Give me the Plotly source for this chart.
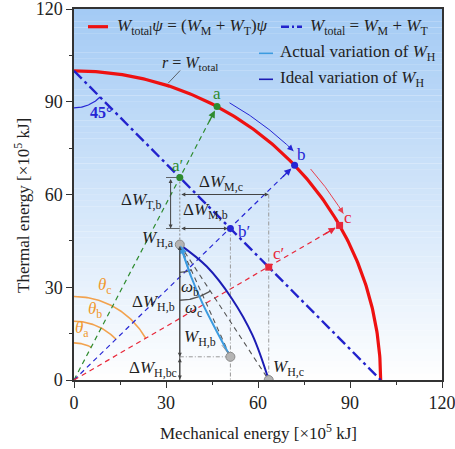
import numpy as np
import plotly.graph_objects as go

# ---------------- data (x1e5 kJ) ----------------
W_total = 100.0
state_labels = ["a", "b", "c"]
state_angles = [62.2, 44.0, 30.0]          # deg, measured from mechanical axis
state_colors = ["#2e8b2e", "#2626d4", "#e8283a"]
prime_WM = [34.5, 51.0, 63.5]              # W_M of a', b', c'
prime_WT = [65.5, 49.0, 36.5]              # W_T of a', b', c'
WH_labels = ["a", "b", "c"]
WH_x = [34.5, 51.0, 63.5]
WH_y = [43.8, 7.5, 0.0]
ideal_x = [34.5, 43.3, 51.5, 58.2, 63.5]
ideal_y = [43.8, 36.7, 26.3, 14.5, 0.0]
actual_x = [51.0, 46.3, 41.9, 38.2, 35.0]
actual_y = [7.5, 16.2, 24.8, 33.4, 42.6]
theta_radii = [12, 19, 27]
omega_radii = [9, 18]
x_ticks = [0, 30, 60, 90, 120]
y_ticks = [0, 30, 60, 90, 120]

FONT = "Liberation Serif"
GREY = "#444444"

fig = go.Figure()

# ---------------- background gradient ----------------
top = np.array([164, 203, 245])
white = np.array([255, 255, 255])
N = 60
shapes = []
for i in range(N):
    y0 = 120 * i / N
    y1 = 120 * (i + 1) / N
    t = (y0 + y1) / 2 / 120
    c = (white * (1 - t) + top * t).astype(int)
    shapes.append(dict(type="rect", xref="x domain", yref="y", x0=0, x1=1, y0=y0, y1=y1 + 0.05,
                       fillcolor=f"rgb({c[0]},{c[1]},{c[2]})", line=dict(width=0), layer="below"))


def line(x, y, color, width=1.0, dash="solid", shape="linear"):
    fig.add_trace(go.Scatter(x=x, y=y, mode="lines", hoverinfo="skip",
                             line=dict(color=color, width=width, dash=dash, shape=shape)))


def arc(cx, cy, r, a0, a1, n=60):
    t = np.radians(np.linspace(a0, a1, n))
    return cx + r * np.cos(t), cy + r * np.sin(t)


annots = []


def arrow(x, y, ax, ay, color=GREY, width=1.0, both=False, size=0.8, head=2, standoff=0):
    annots.append(dict(x=x, y=y, ax=ax, ay=ay, xref="x", yref="y", axref="x", ayref="y", text="",
                       showarrow=True, arrowhead=head, arrowsize=size, arrowwidth=width,
                       arrowcolor=color, arrowside="end+start" if both else "end",
                       startarrowhead=head, startarrowsize=size, standoff=standoff,
                       startstandoff=0))


def label(x, y, text, color="#222222", size=17, xanchor="center", yanchor="middle"):
    annots.append(dict(x=x, y=y, xref="x", yref="y", text=text, showarrow=False,
                       font=dict(family=FONT, size=size, color=color),
                       xanchor=xanchor, yanchor=yanchor))


# theta arcs (orange)
for ang, r in zip(state_angles, theta_radii):
    ax_, ay_ = arc(0, 0, r, 90, ang)
    line(ax_, ay_, "#f2a24e", 1.6)

# dashed rays from origin to states
pts = []
for ang, col in zip(state_angles, state_colors):
    px = W_total * np.cos(np.radians(ang))
    py = W_total * np.sin(np.radians(ang))
    pts.append((px, py))
    line([0, px], [0, py], col, 1.2, dash="5px,4px")

# grey construction lines
line([prime_WM[0], prime_WM[0]], [prime_WT[0], WH_y[0]], "#888888", 1, dash="2px,2px")
line([prime_WM[1], prime_WM[1]], [prime_WT[1], 0], "#999999", 1, dash="4px,2px,1px,2px")
line([prime_WM[2], prime_WM[2]], [60.0, 0], "#999999", 1, dash="4px,2px,1px,2px")
line([WH_x[0], WH_x[1]], [WH_y[1], WH_y[1]], "#999999", 1, dash="4px,2px,1px,2px")
line([30.0, prime_WM[0]], [prime_WT[0], prime_WT[0]], GREY, 0.8)
line([30.0, prime_WM[0]], [prime_WT[1], prime_WT[1]], GREY, 0.8)
line([WH_x[0], WH_x[0]], [WH_y[0], 0], GREY, 1)

# dashed chords W_H,a -> W_H,b / W_H,c
line([WH_x[0], WH_x[1]], [WH_y[0], WH_y[1]], "#555555", 1.1, dash="5px,4px")
line([WH_x[0], WH_x[2]], [WH_y[0], WH_y[2]], "#555555", 1.1, dash="5px,4px")

# omega arcs
for j, r in enumerate(omega_radii):
    dx = WH_x[j + 1] - WH_x[0]
    dy = WH_y[j + 1] - WH_y[0]
    ang = np.degrees(np.arctan2(dy, dx))
    ox, oy = arc(WH_x[0], WH_y[0], r, -90, ang)
    line(ox, oy, "#555555", 1.3)

# 45 degree arc
ox, oy = arc(0, 100, 12, -90, -45)
line(ox, oy, "#2626d4", 1.2)

# main energy arc and W_total line
rx, ry = arc(0, 0, W_total, 0, 90, 200)
line(rx, ry, "#ee1111", 3.2)
line([0, W_total], [W_total, 0], "#2222cc", 2.4, dash="11px,4px,3px,4px")

# ideal and actual variation of W_H
line(ideal_x, ideal_y, "#1c1cb4", 2.0, shape="spline")
line(actual_x, actual_y, "#3c9be0", 2.0, shape="spline")
arrow(actual_x[-1] - 0.3, actual_y[-1] + 0.9, actual_x[-2], actual_y[-2], "#3c9be0", 1.6, size=1.0)

# curved arrows along the arc
bx, by = arc(0, 0, 103, 60.5, 46.0)
line(bx, by, "#2626d4", 1.0)
arrow(bx[-1], by[-1], bx[-6], by[-6], "#2626d4", 1.2, size=1.0)
cx_, cy_ = arc(0, 0, 103, 41.5, 31.5)
line(cx_, cy_, "#e8404f", 1.0)
arrow(cx_[-1], cy_[-1], cx_[-6], cy_[-6], "#e8404f", 1.2, size=1.0)

# arrowheads on rays
for (px, py), ang, col in zip(pts, state_angles, state_colors):
    t = np.radians(ang)
    arrow(px - 1.5 * np.cos(t), py - 1.5 * np.sin(t), px - 6 * np.cos(t), py - 6 * np.sin(t), col, 1.4, size=1.0)

# state markers
fig.add_trace(go.Scatter(x=[p[0] for p in pts], y=[p[1] for p in pts], mode="markers", hoverinfo="skip",
                         marker=dict(size=7, color=state_colors, symbol=["circle", "circle", "square"])))
fig.add_trace(go.Scatter(x=prime_WM, y=prime_WT, mode="markers", hoverinfo="skip",
                         marker=dict(size=7, color=state_colors, symbol=["circle", "circle", "square"])))
fig.add_trace(go.Scatter(x=WH_x, y=WH_y, mode="markers", hoverinfo="skip",
                         marker=dict(size=9, color="#b4b4b4", line=dict(color="#8a8a8a", width=1))))

# dimension arrows
arrow(31.5, prime_WT[1], 31.5, prime_WT[0], GREY, 1, both=True)
arrow(prime_WM[2], 60.0, prime_WM[0], 60.0, GREY, 1, both=True)
arrow(prime_WM[1] - 0.8, prime_WT[1], prime_WM[0], prime_WT[1], GREY, 1, both=True)
arrow(WH_x[0], WH_y[1], WH_x[0], WH_y[0], GREY, 1, both=True)
arrow(WH_x[0], 0.2, WH_x[0], WH_y[1], GREY, 1, both=True)

# leader lines
line([30.7, 34.6], [96.0, 100.1], GREY, 0.8)
line([48.2, 50.3], [11.3, 8.6], "#888888", 0.8)

# text labels
for (px, py), lab, col, dx, dy in zip(pts, state_labels, state_colors,
                                      [0.0, 2.3, 2.8], [4.3, 3.5, 2.5]):
    label(px + dx, py + dy, lab, col, 17)
label(33.9, 69.3, "a′", state_colors[0], 17)
label(55.4, 47.9, "b′", state_colors[1], 17)
label(66.7, 41.0, "c′", state_colors[2], 17)
label(8.8, 86.6, "<b>45°</b>", "#2626d4", 16)
label(37.8, 102.3, "<i>r</i> = <i>W</i><sub>total</sub>", "#222222", 16)
label(33.3, 45.5, "<i>W</i><sub>H,a</sub>", "#222222", 17, xanchor="right")
label(22.0, 57.8, "Δ<i>W</i><sub>T,b</sub>", "#222222", 17)
label(48.0, 63.8, "Δ<i>W</i><sub>M,c</sub>", "#222222", 17)
label(43.0, 54.6, "Δ<i>W</i><sub>M,b</sub>", "#222222", 17)
label(25.8, 25.0, "Δ<i>W</i><sub>H,b</sub>", "#222222", 17)
label(25.6, 3.6, "Δ<i>W</i><sub>H,bc</sub>", "#222222", 17)
label(41.0, 13.7, "<i>W</i><sub>H,b</sub>", "#222222", 17)
label(69.8, 4.0, "<i>W</i><sub>H,c</sub>", "#222222", 17)
label(37.9, 29.8, "<i>ω</i><sub>b</sub>", "#222222", 17)
label(38.9, 23.0, "<i>ω</i><sub>c</sub>", "#222222", 17)
for ang, r, lab, lx, ly in zip(state_angles, theta_radii, ["a", "b", "c"],
                               [2.6, 6.8, 10.2], [16.4, 22.8, 30.4]):
    label(lx, ly, f"<i>θ</i><sub>{lab}</sub>", "#f0982e", 17)

# ---------------- legend & axis titles (drawn manually) ----------------
PX0, PY0, PW, PH = 74, 380, 368, 371


def lx(px):
    return (px - PX0) / PW


def ly(py):
    return (PY0 - py) / PH


leg = [
    (88, 108, 26.7, "#ee1111", 3.2, "solid", 115,
     "<i>W</i><sub>total</sub><i>ψ</i> = (<i>W</i><sub>M</sub> + <i>W</i><sub>T</sub>)<i>ψ</i>"),
    (281, 302, 26.7, "#2222cc", 2.4, "8px,3px,2px,3px", 308,
     "<i>W</i><sub>total</sub> = <i>W</i><sub>M</sub> + <i>W</i><sub>T</sub>"),
    (259, 273, 53.3, "#3c9be0", 1.6, "solid", 278, "Actual variation of <i>W</i><sub>H</sub>"),
    (259, 273, 79.3, "#1c1cb4", 1.6, "solid", 278, "Ideal variation of <i>W</i><sub>H</sub>"),
]
for x0, x1, yy, col, w, dash, tx, txt in leg:
    shapes.append(dict(type="line", xref="paper", yref="paper", x0=lx(x0), x1=lx(x1),
                       y0=ly(yy), y1=ly(yy), line=dict(color=col, width=w, dash=dash)))
    annots.append(dict(x=lx(tx), y=ly(yy), xref="paper", yref="paper", text=txt, showarrow=False,
                       xanchor="left", yanchor="middle",
                       font=dict(family=FONT, size=17, color="#222222")))

annots.append(dict(x=lx(258), y=ly(432), xref="paper", yref="paper", showarrow=False,
                   text="Mechanical energy [×10<sup>5</sup> kJ]", xanchor="center", yanchor="middle",
                   font=dict(family=FONT, size=17, color="#222222")))
annots.append(dict(x=lx(22), y=ly(206), xref="paper", yref="paper", showarrow=False, textangle=-90,
                   text="Thermal energy [×10<sup>5</sup> kJ]", xanchor="center", yanchor="middle",
                   font=dict(family=FONT, size=17, color="#222222")))

axis_common = dict(range=[0, 120], showgrid=False, zeroline=False, showline=True, linecolor="#333333",
                   linewidth=1.5, mirror=True, ticks="outside", ticklen=6, tickwidth=1.2,
                   tickcolor="#333333", tickfont=dict(family=FONT, size=18, color="#222222"),
                   automargin=False, ticklabeloverflow="allow",
                   minor=dict(ticks="outside", ticklen=3, tickwidth=1.2, tickcolor="#333333",
                              dtick=15, tick0=0, showgrid=False))

fig.update_layout(
    width=455, height=449,
    margin=dict(l=74, r=13, t=9, b=69),
    showlegend=False,
    plot_bgcolor="white", paper_bgcolor="white",
    font=dict(family=FONT, color="#222222"),
    shapes=shapes, annotations=annots,
    xaxis=dict(axis_common, tickvals=x_ticks),
    yaxis=dict(axis_common, tickvals=y_ticks),
)

# remove the default 8px page margin so the figure sits at the window origin
fig.write_html("out.html", config={"displayModeBar": False},
               post_script="document.body.style.margin='0';")
